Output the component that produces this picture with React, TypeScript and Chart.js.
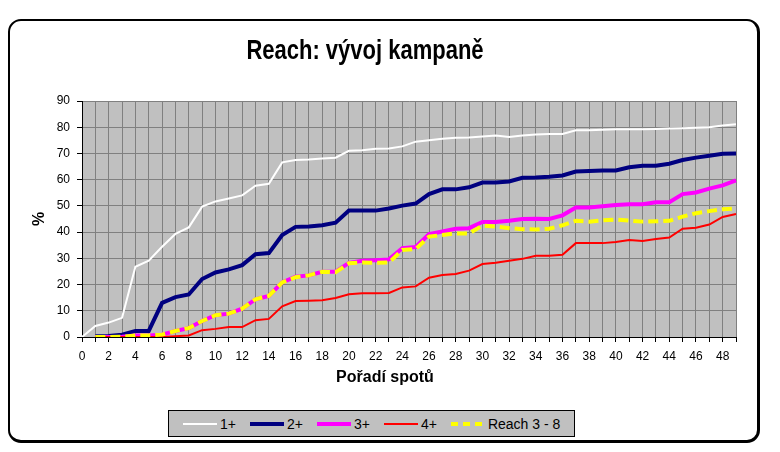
import React, { useEffect, useRef } from 'react';
import { Chart, registerables } from 'chart.js';

Chart.register(...registerables);

const TITLE = 'Reach: vývoj kampaně';
const X_TITLE = 'Pořadí spotů';
const Y_TITLE = '%';

const SPOTS = [
  '0', '1', '2', '3', '4', '5', '6', '7', '8', '9',
  '10', '11', '12', '13', '14', '15', '16', '17', '18', '19',
  '20', '21', '22', '23', '24', '25', '26', '27', '28', '29',
  '30', '31', '32', '33', '34', '35', '36', '37', '38', '39',
  '40', '41', '42', '43', '44', '45', '46', '47', '48', '49',
];

const ONE_PLUS = [
  0, 4.2, 5.5, 7.3, 26.8, 29.1, 34.4, 39.3, 41.8, 49.7,
  51.7, 52.8, 54.0, 57.7, 58.4, 66.6, 67.5, 67.7, 68.1, 68.4,
  71.0, 71.2, 71.8, 71.9, 72.7, 74.5, 75.0, 75.6, 76.0, 76.1,
  76.5, 76.8, 76.3, 76.8, 77.2, 77.4, 77.4, 78.8, 78.8, 79.0,
  79.2, 79.2, 79.2, 79.3, 79.5, 79.6, 79.8, 80.0, 80.7, 81.1,
];

const TWO_PLUS = [
  null, 0.3, 0.4, 0.9, 2.3, 2.3, 13.0, 15.2, 16.2, 22.1,
  24.6, 25.8, 27.4, 31.6, 32.0, 38.9, 42.0, 42.1, 42.6, 43.6,
  48.2, 48.2, 48.2, 49.0, 50.1, 50.9, 54.5, 56.3, 56.3, 57.1,
  58.9, 58.9, 59.3, 60.7, 60.8, 61.1, 61.6, 63.1, 63.3, 63.5,
  63.5, 64.7, 65.3, 65.3, 66.1, 67.5, 68.4, 69.1, 69.9, 70.0,
];

const THREE_PLUS = [
  null, 0, 0, 0.1, 0.6, 0.6, 0.9, 2.3, 3.4, 6.1,
  8.3, 8.9, 10.8, 14.4, 15.7, 20.8, 23.0, 23.5, 24.9, 24.9,
  28.3, 29.1, 29.3, 29.6, 33.9, 34.3, 39.2, 40.2, 41.3, 41.5,
  43.9, 43.9, 44.3, 45.0, 45.1, 45.0, 46.4, 49.4, 49.4, 49.9,
  50.3, 50.6, 50.6, 51.4, 51.4, 54.5, 55.1, 56.6, 57.8, 59.7,
];

const FOUR_PLUS = [
  null, 0, 0, 0, 0, 0, 0, 0.3, 0.6, 2.6,
  3.1, 3.8, 3.8, 6.4, 6.9, 11.7, 13.7, 13.8, 14.0, 14.9,
  16.3, 16.7, 16.7, 16.8, 18.9, 19.3, 22.6, 23.6, 24.0, 25.3,
  27.8, 28.3, 29.1, 29.8, 31.0, 31.0, 31.4, 35.8, 35.8, 35.8,
  36.2, 37.0, 36.6, 37.4, 37.9, 41.3, 41.7, 42.9, 45.8, 46.9,
];

const REACH_3_8 = [
  null, 0, 0, 0.1, 0.6, 0.6, 0.9, 2.3, 3.4, 6.1,
  8.3, 8.9, 10.8, 14.4, 15.7, 20.8, 22.8, 23.5, 24.9, 24.7,
  28.1, 28.4, 28.3, 28.4, 33.2, 33.5, 38.3, 38.9, 39.5, 39.5,
  42.5, 42.1, 41.5, 41.1, 41.0, 41.3, 42.6, 44.3, 44.0, 44.5,
  44.8, 44.4, 44.0, 44.1, 44.3, 45.9, 47.2, 48.0, 48.7, 49.0,
];

const SERIES = [
  { label: '1+', data: ONE_PLUS, color: '#ffffff', width: 2, dash: [] as number[], order: 5 },
  { label: '2+', data: TWO_PLUS, color: '#000080', width: 4, dash: [] as number[], order: 4 },
  { label: '3+', data: THREE_PLUS, color: '#ff00ff', width: 4, dash: [] as number[], order: 3 },
  { label: '4+', data: FOUR_PLUS, color: '#ff0000', width: 2, dash: [] as number[], order: 2 },
  { label: 'Reach 3 - 8', data: REACH_3_8, color: '#ffff00', width: 4, dash: [10, 5], order: 1 },
];

const FONT = "'Liberation Sans', Arial, sans-serif";

const plotBg = {
  id: 'plotBg',
  beforeDraw(chart: any) {
    const { ctx, chartArea } = chart;
    ctx.save();
    ctx.fillStyle = '#c0c0c0';
    ctx.fillRect(chartArea.left, chartArea.top, chartArea.right - chartArea.left, chartArea.bottom - chartArea.top);
    ctx.restore();
  },
};

export default function App() {
  const ref = useRef<HTMLCanvasElement | null>(null);

  useEffect(() => {
    if (!ref.current) return;
    const chart = new Chart(ref.current, {
      type: 'line',
      data: {
        labels: SPOTS,
        datasets: SERIES.map((s) => ({
          label: s.label,
          data: s.data,
          borderColor: s.color,
          backgroundColor: s.color,
          borderWidth: s.width,
          borderDash: s.dash,
          pointRadius: 0,
          pointHoverRadius: 0,
          tension: 0,
          fill: false,
          spanGaps: false,
          order: s.order,
        })),
      },
      plugins: [plotBg],
      options: {
        responsive: false,
        animation: false,
        events: [],
        layout: { padding: { left: 0, right: 44, top: 101, bottom: 85 } },
        plugins: {
          legend: { display: false },
          tooltip: { enabled: false },
          title: { display: false },
        },
        scales: {
          x: {
            type: 'category',
            offset: false,
            grid: {
              offset: false,
              color: '#808080',
              tickColor: '#000',
              tickLength: 5,
              lineWidth: 1,
            },
            border: { color: '#000', width: 1 },
            ticks: {
              autoSkip: false,
              maxRotation: 0,
              minRotation: 0,
              padding: 7,
              color: '#000',
              font: { family: FONT, size: 12 },
              callback: (_v: any, i: number) => (i % 2 === 0 ? SPOTS[i] : ''),
            },
            afterFit: (s: any) => {
              s.height = 30;
            },
          },
          y: {
            min: 0,
            max: 90,
            grid: { color: '#808080', tickColor: '#000', tickLength: 5, lineWidth: 1 },
            border: { color: '#000', width: 1 },
            ticks: {
              stepSize: 10,
              padding: 7,
              color: '#000',
              font: { family: FONT, size: 12 },
            },
            title: {
              display: true,
              text: Y_TITLE,
              color: '#000',
              font: { family: FONT, size: 16, weight: 'bold' },
              padding: { top: 30, bottom: 0 },
            },
            afterFit: (s: any) => {
              s.width = 82;
            },
          },
        },
      },
    } as any);
    return () => chart.destroy();
  }, []);

  return (
    <div style={{ position: 'fixed', left: 0, top: 0, width: 780, height: 452, background: '#fff', overflow: 'hidden' }}>
      <div
        style={{
          position: 'absolute',
          left: 8,
          top: 19,
          width: 752,
          height: 424,
          boxSizing: 'border-box',
          borderStyle: 'solid',
          borderColor: '#000',
          borderWidth: '2px 3px 3px 2px',
          borderRadius: 13,
        }}
      />
      <canvas ref={ref} width={780} height={452} style={{ position: 'absolute', left: 0, top: 0, width: 780, height: 452 }} />
      <div
        style={{
          position: 'absolute',
          left: 165,
          top: 39,
          width: 400,
          height: 22,
          textAlign: 'center',
          font: `bold 22px ${FONT}`,
          lineHeight: '22px',
          color: '#000',
          whiteSpace: 'nowrap',
          transform: 'scaleY(1.27)',
          transformOrigin: 'center center',
        }}
      >
        {TITLE}
      </div>
      <div
        style={{
          position: 'absolute',
          left: 285,
          top: 367,
          width: 200,
          textAlign: 'center',
          font: `bold 16px ${FONT}`,
          color: '#000',
          lineHeight: '20px',
        }}
      >
        {X_TITLE}
      </div>
      <div
        style={{
          position: 'absolute',
          left: 168,
          top: 410,
          width: 407,
          height: 27,
          boxSizing: 'border-box',
          border: '1px solid #000',
          background: '#c0c0c0',
          display: 'flex',
          alignItems: 'center',
          paddingLeft: 13,
          gap: 13,
          font: `14px ${FONT}`,
          color: '#000',
        }}
      >
        {SERIES.map((s) => (
          <div key={s.label} style={{ display: 'flex', alignItems: 'center' }}>
            <svg width={36} height={8} style={{ marginRight: 2 }}>
              <line
                x1={1}
                y1={4}
                x2={35}
                y2={4}
                stroke={s.color}
                strokeWidth={s.width}
                strokeDasharray={s.dash.length ? '7 5' : undefined}
              />
            </svg>
            <span>{s.label}</span>
          </div>
        ))}
      </div>
    </div>
  );
}
